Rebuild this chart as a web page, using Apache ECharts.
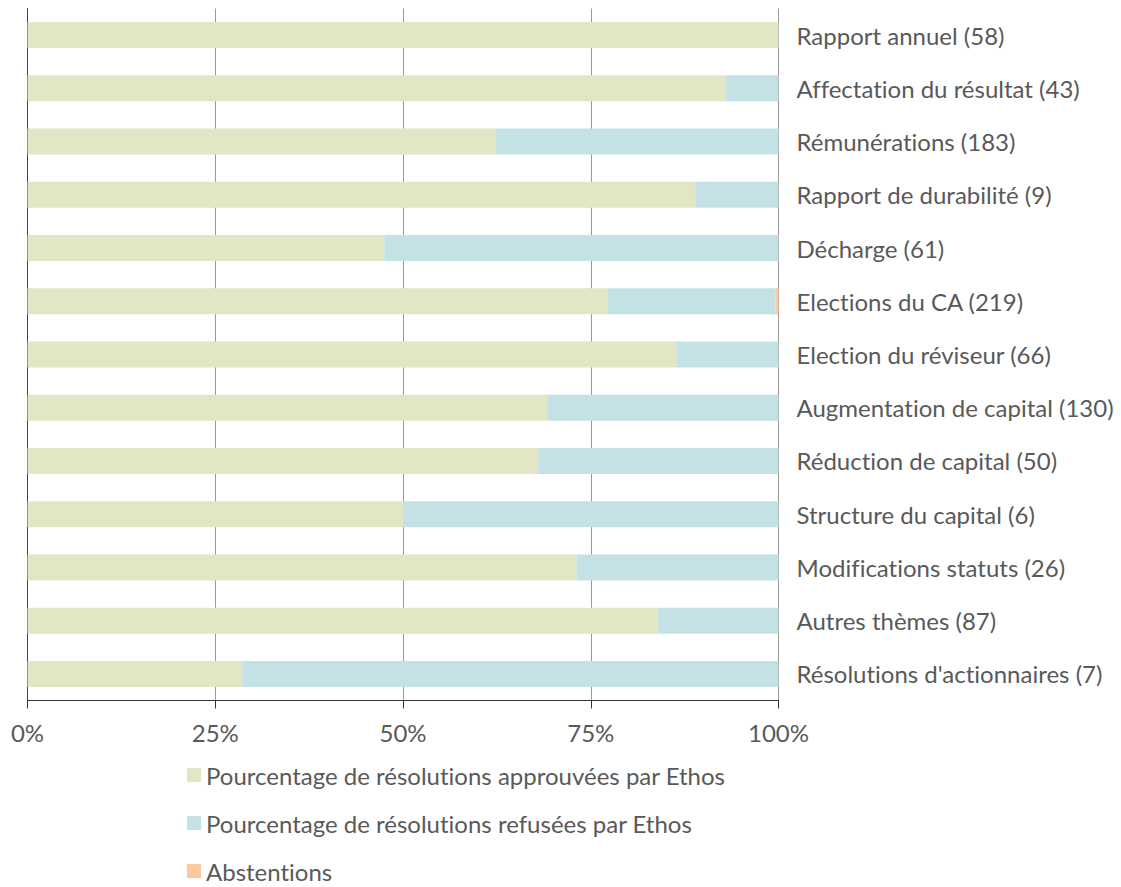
<!DOCTYPE html>
<html>
<head>
<meta charset="utf-8">
<script src="https://cdn.jsdelivr.net/npm/echarts@6/dist/echarts.min.js"></script>
<style>html,body{margin:0;padding:0;background:#fff}#c{width:1121px;height:887px}#c text{font-variant-ligatures:none;font-feature-settings:"liga" 0,"clig" 0}</style>
</head>
<body>
<div id="c"></div>
<script>
const categories = ["Rapport annuel (58)","Affectation du résultat (43)","Rémunérations (183)","Rapport de durabilité (9)","Décharge (61)","Elections du CA (219)","Election du réviseur (66)","Augmentation de capital (130)","Réduction de capital (50)","Structure du capital (6)","Modifications statuts (26)","Autres thèmes (87)","Résolutions d'actionnaires (7)"];
const approved = [100, 93.0, 62.3, 88.9, 47.5, 77.2, 86.4, 69.2, 68.0, 50.0, 73.1, 83.9, 28.6];
const refused  = [0, 7.0, 37.7, 11.1, 52.5, 22.4, 13.6, 30.8, 32.0, 50.0, 26.9, 16.1, 71.4];
const abstentions = [0, 0, 0, 0, 0, 0.4, 0, 0, 0, 0, 0, 0, 0];
const xTicks = [0, 25, 50, 75, 100];
const seriesNames = ["Pourcentage de résolutions approuvées par Ethos","Pourcentage de résolutions refusées par Ethos","Abstentions"];

const font = "Lato, 'Noto Sans', sans-serif";
const chart = echarts.init(document.getElementById('c'), null, { renderer: 'svg' });
chart.setOption({
  animation: false,
  color: ['#e2e6c4', '#c4e1e6', '#fcc9a0'],
  textStyle: { fontFamily: font },
  grid: { left: 27.5, right: 342.5, top: 8.5, bottom: 186.5, containLabel: false },
  legend: {
    orient: 'vertical', left: 182, top: 758, height: 200,
    itemWidth: 14, itemHeight: 14, itemGap: 24,
    icon: 'rect',
    textStyle: { fontSize: 24, color: '#595959', fontFamily: font },
    data: seriesNames
  },
  xAxis: {
    type: 'value', min: xTicks[0], max: xTicks[xTicks.length-1], interval: 25,
    axisLine: { show: true, lineStyle: { color: '#333', width: 1 } },
    axisTick: { show: true, length: 8, lineStyle: { color: '#333' } },
    axisLabel: { fontSize: 24, color: '#595959', margin: 20, fontFamily: font, formatter: v => v + '%' },
    splitLine: { show: true, lineStyle: { color: '#999', width: 1 } }
  },
  yAxis: [{
    type: 'category', data: categories, inverse: true, position: 'right',
    axisLine: { show: false }, axisTick: { show: false },
    axisLabel: { fontSize: 24, color: '#595959', margin: 18, fontFamily: font, align: 'left', padding: [0, 0, 4, 0] }
  }, {
    type: 'category', data: categories, inverse: true, position: 'left',
    axisLine: { show: true, lineStyle: { color: '#444', width: 1 } }, axisTick: { show: false },
    axisLabel: { show: false }
  }],
  series: [
    { name: seriesNames[0], type: 'bar', stack: 's', data: approved, barWidth: 26 },
    { name: seriesNames[1], type: 'bar', stack: 's', data: refused, barWidth: 26 },
    { name: seriesNames[2], type: 'bar', stack: 's', data: abstentions, barWidth: 26 }
  ]
});
</script>
</body>
</html>
